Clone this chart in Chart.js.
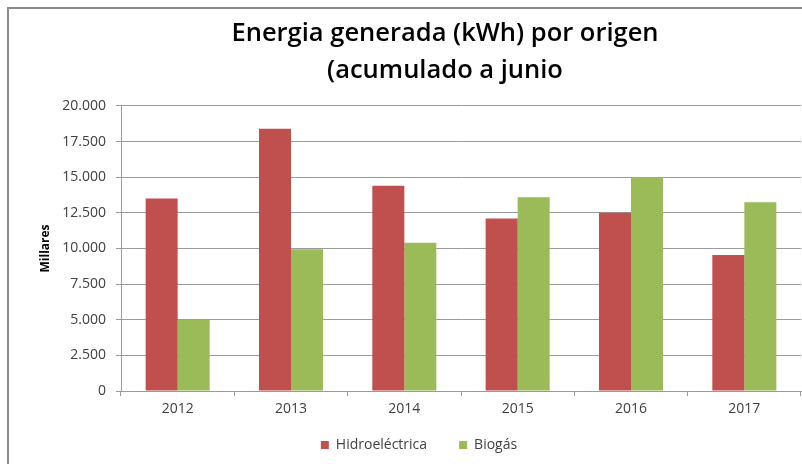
<!DOCTYPE html>
<html>
<head>
<meta charset="utf-8">
<script src="https://cdn.jsdelivr.net/npm/chart.js@4"></script>
<style>
html, body { margin: 0; padding: 0; background: #fff; overflow: hidden; }
#frame { position: absolute; left: 7px; top: 7px; width: 900px; height: 500px; border-left: 2px solid #8c8c8c; border-top: 2px solid #8c8c8c; }
#wrap { position: absolute; left: 0; top: 0; width: 802px; height: 464px; }
</style>
</head>
<body>
<div id="frame"></div>
<div id="wrap"><canvas id="chart"></canvas></div>
<script>
const years = ['2012', '2013', '2014', '2015', '2016', '2017'];
const hidroelectrica = [13500, 18400, 14400, 12100, 12500, 9550];
const biogas = [5000, 9950, 10400, 13600, 15000, 13250];
const titleLines = ['Energia generada (kWh) por origen', '(acumulado a junio'];

// miles con punto: 12500 -> 12.500
function fmt(v) {
    return String(v).replace(/\B(?=(\d{3})+(?!\d))/g, '.');
}

// centra título y leyenda como en el original (no sobre el canvas)
const shiftBoxes = {
    id: 'shiftBoxes',
    afterLayout(chart) {
        chart.titleBlock.left = 0;
        chart.titleBlock.right = 890;
        const lg = chart.legend;
        const h = lg.bottom - lg.top;
        lg.left = 0;
        lg.right = 838;
        lg.top = 406;
        lg.bottom = 406 + h;
    }
};

const textColor = '#404040';
const gridColor = '#9a9a9a';

new Chart(document.getElementById('chart'), {
    type: 'bar',
    data: {
        labels: years,
        datasets: [{
            label: 'Hidroeléctrica',
            data: hidroelectrica,
            backgroundColor: '#c0504d',
            borderWidth: 0
        }, {
            label: 'Biogás',
            data: biogas,
            backgroundColor: '#9bbb59',
            borderWidth: 0
        }]
    },
    options: {
        responsive: true,
        maintainAspectRatio: false,
        animation: false,
        categoryPercentage: 0.565,
        barPercentage: 1.0,
        layout: { padding: { left: 0, right: 1, top: 0, bottom: -13 } },
        plugins: {
            title: {
                display: true,
                text: titleLines,
                color: '#000',
                font: { family: 'Open Sans', size: 25.5, weight: '600', lineHeight: 1.47 },
                padding: { top: 15, bottom: 16 }
            },
            legend: {
                position: 'bottom',
                labels: {
                    color: textColor,
                    font: { family: 'Open Sans', size: 14 },
                    boxWidth: 8,
                    boxHeight: 8,
                    padding: 32
                }
            },
            tooltip: { enabled: false }
        },
        scales: {
            x: {
                afterFit(scale) { scale.height = 30; },
                grid: { drawOnChartArea: false, color: gridColor, tickLength: 5 },
                border: { color: gridColor },
                ticks: { color: textColor, font: { family: 'Open Sans', size: 14 }, padding: 5 }
            },
            y: {
                min: 0,
                max: 20000,
                afterFit(scale) { scale.width = 121; },
                grid: { color: gridColor, tickLength: 5 },
                border: { color: gridColor },
                ticks: {
                    stepSize: 2500,
                    color: textColor,
                    font: { family: 'Open Sans', size: 14 },
                    padding: 10,
                    callback: (v) => fmt(v)
                },
                title: {
                    display: true,
                    text: 'Millares',
                    color: '#000',
                    font: { family: 'Open Sans', size: 12, weight: 'bold' },
                    padding: { top: 38, bottom: 0 }
                }
            }
        }
    },
    plugins: [shiftBoxes]
});
</script>
</body>
</html>
